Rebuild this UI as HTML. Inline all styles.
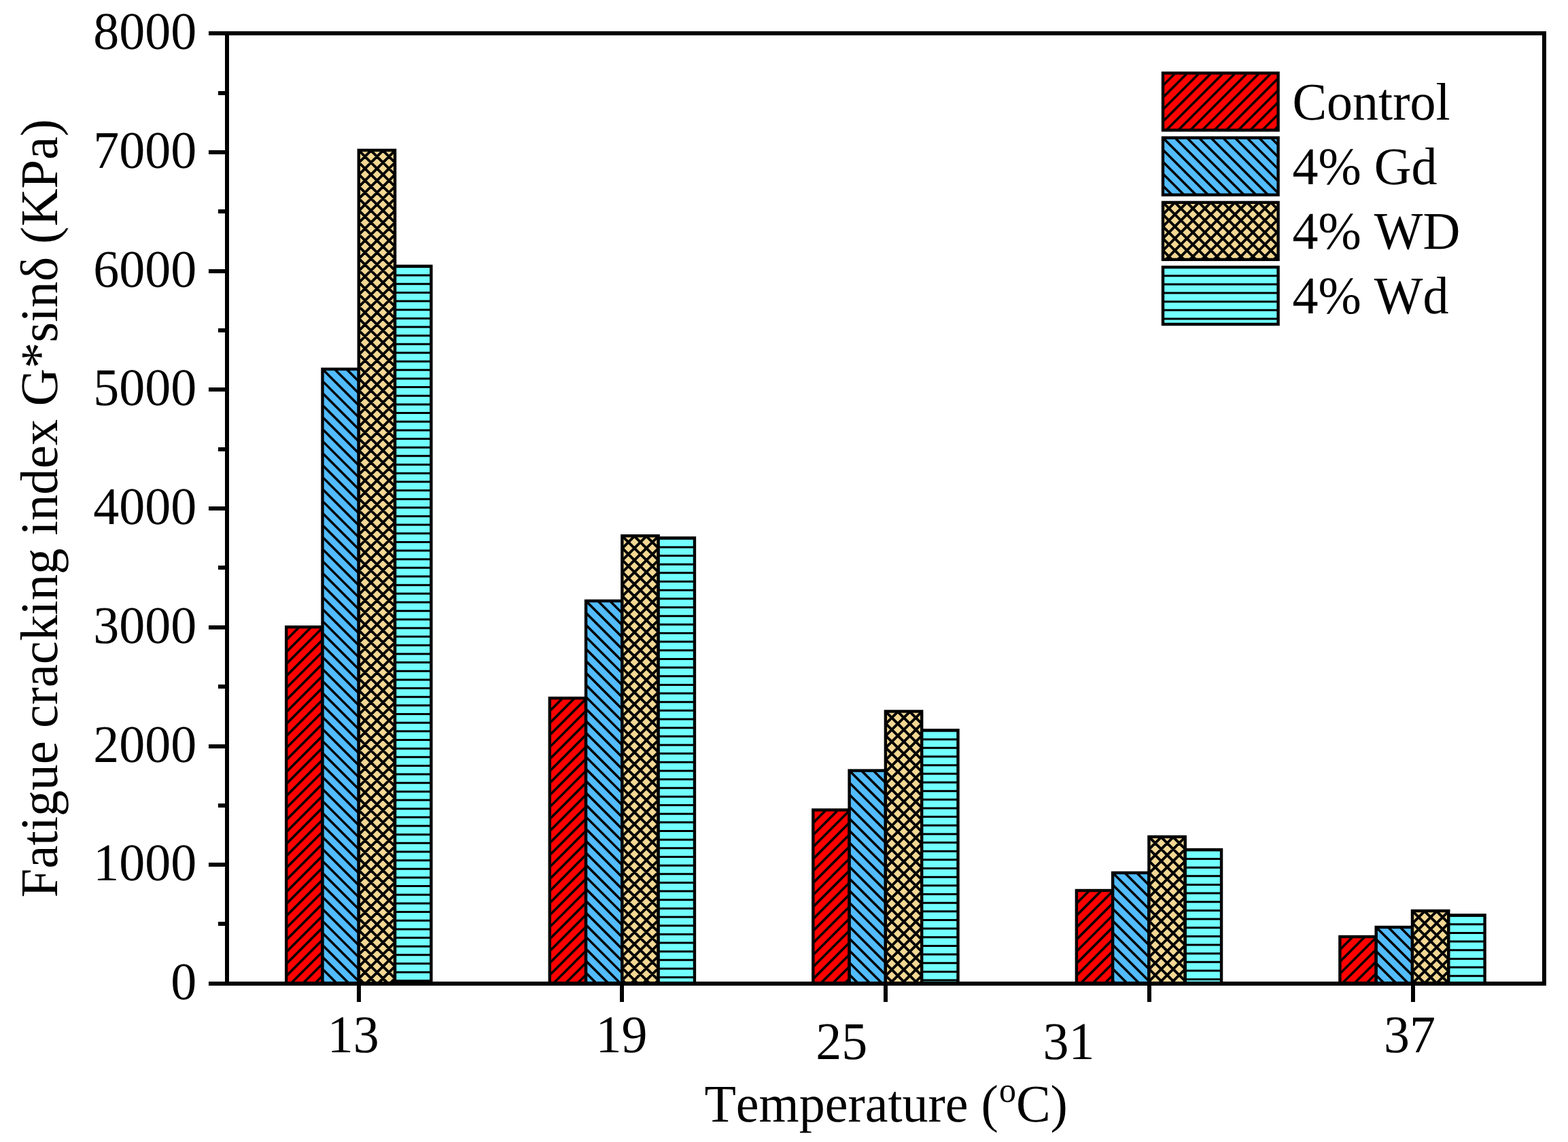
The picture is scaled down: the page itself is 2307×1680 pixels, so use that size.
<!DOCTYPE html>
<html lang="en"><head><meta charset="utf-8"><title>Fatigue cracking index vs temperature</title>
<style>html,body{margin:0;padding:0;background:#fff}body{width:2307px;height:1680px;overflow:hidden}svg{display:block}text{font-family:"Liberation Serif", "DejaVu Serif", serif;font-size:76px;fill:#000;font-kerning:none;font-variant-ligatures:none;text-rendering:geometricPrecision}</style>
</head><body>
<svg width="2307" height="1680" viewBox="0 0 2307 1680">
<rect x="0" y="0" width="2307" height="1680" fill="#fff"/>
<clipPath id="c1"><rect x="421.21" y="922.40" width="53.30" height="524.60"/></clipPath>
<rect x="421.21" y="922.40" width="53.30" height="524.60" fill="#FF0000"/>
<path d="M416.21 893.60L479.50 830.31M416.21 911.25L479.50 847.96M416.21 928.90L479.50 865.61M416.21 946.55L479.50 883.26M416.21 964.20L479.50 900.91M416.21 981.85L479.50 918.56M416.21 999.50L479.50 936.21M416.21 1017.15L479.50 953.86M416.21 1034.80L479.50 971.51M416.21 1052.45L479.50 989.16M416.21 1070.10L479.50 1006.81M416.21 1087.75L479.50 1024.46M416.21 1105.40L479.50 1042.11M416.21 1123.05L479.50 1059.76M416.21 1140.70L479.50 1077.41M416.21 1158.35L479.50 1095.06M416.21 1176.00L479.50 1112.71M416.21 1193.65L479.50 1130.36M416.21 1211.30L479.50 1148.01M416.21 1228.95L479.50 1165.66M416.21 1246.60L479.50 1183.31M416.21 1264.25L479.50 1200.96M416.21 1281.90L479.50 1218.61M416.21 1299.55L479.50 1236.26M416.21 1317.20L479.50 1253.91M416.21 1334.85L479.50 1271.56M416.21 1352.50L479.50 1289.21M416.21 1370.15L479.50 1306.86M416.21 1387.80L479.50 1324.51M416.21 1405.45L479.50 1342.16M416.21 1423.10L479.50 1359.81M416.21 1440.75L479.50 1377.46M416.21 1458.40L479.50 1395.11M416.21 1476.05L479.50 1412.76M416.21 1493.70L479.50 1430.41M416.21 1511.35L479.50 1448.06" stroke="#000" stroke-width="3.50" fill="none" clip-path="url(#c1)"/>
<rect x="421.21" y="922.40" width="53.30" height="524.60" fill="none" stroke="#000" stroke-width="4.40"/>
<clipPath id="c2"><rect x="474.50" y="543.00" width="53.30" height="904.00"/></clipPath>
<rect x="474.50" y="543.00" width="53.30" height="904.00" fill="#52BCFF"/>
<path d="M469.50 449.75L532.80 513.05M469.50 467.40L532.80 530.70M469.50 485.05L532.80 548.35M469.50 502.70L532.80 566.00M469.50 520.35L532.80 583.64M469.50 538.00L532.80 601.30M469.50 555.65L532.80 618.95M469.50 573.30L532.80 636.60M469.50 590.95L532.80 654.25M469.50 608.60L532.80 671.89M469.50 626.25L532.80 689.55M469.50 643.90L532.80 707.20M469.50 661.55L532.80 724.85M469.50 679.20L532.80 742.50M469.50 696.85L532.80 760.15M469.50 714.50L532.80 777.80M469.50 732.15L532.80 795.45M469.50 749.80L532.80 813.10M469.50 767.45L532.80 830.75M469.50 785.10L532.80 848.39M469.50 802.75L532.80 866.04M469.50 820.40L532.80 883.69M469.50 838.05L532.80 901.34M469.50 855.70L532.80 918.99M469.50 873.35L532.80 936.64M469.50 891.00L532.80 954.29M469.50 908.65L532.80 971.94M469.50 926.30L532.80 989.59M469.50 943.95L532.80 1007.24M469.50 961.60L532.80 1024.89M469.50 979.25L532.80 1042.54M469.50 996.90L532.80 1060.19M469.50 1014.55L532.80 1077.84M469.50 1032.20L532.80 1095.49M469.50 1049.85L532.80 1113.14M469.50 1067.50L532.80 1130.79M469.50 1085.15L532.80 1148.44M469.50 1102.80L532.80 1166.09M469.50 1120.45L532.80 1183.74M469.50 1138.10L532.80 1201.39M469.50 1155.75L532.80 1219.04M469.50 1173.40L532.80 1236.69M469.50 1191.05L532.80 1254.34M469.50 1208.70L532.80 1271.99M469.50 1226.35L532.80 1289.64M469.50 1244.00L532.80 1307.29M469.50 1261.65L532.80 1324.94M469.50 1279.30L532.80 1342.59M469.50 1296.95L532.80 1360.24M469.50 1314.60L532.80 1377.89M469.50 1332.25L532.80 1395.54M469.50 1349.90L532.80 1413.19M469.50 1367.55L532.80 1430.84M469.50 1385.20L532.80 1448.49M469.50 1402.85L532.80 1466.14M469.50 1420.50L532.80 1483.79M469.50 1438.15L532.80 1501.44M469.50 1455.80L532.80 1519.09" stroke="#000" stroke-width="3.50" fill="none" clip-path="url(#c2)"/>
<rect x="474.50" y="543.00" width="53.30" height="904.00" fill="none" stroke="#000" stroke-width="4.40"/>
<clipPath id="c3"><rect x="527.80" y="221.00" width="53.29" height="1226.00"/></clipPath>
<rect x="527.80" y="221.00" width="53.29" height="1226.00" fill="#F3D894"/>
<path d="M522.80 127.85L586.09 191.14M522.80 145.50L586.09 208.79M522.80 163.15L586.09 226.44M522.80 180.80L586.09 244.09M522.80 198.45L586.09 261.74M522.80 216.10L586.09 279.39M522.80 233.75L586.09 297.04M522.80 251.40L586.09 314.69M522.80 269.05L586.09 332.34M522.80 286.70L586.09 349.99M522.80 304.35L586.09 367.64M522.80 322.00L586.09 385.29M522.80 339.65L586.09 402.94M522.80 357.30L586.09 420.59M522.80 374.95L586.09 438.24M522.80 392.60L586.09 455.89M522.80 410.25L586.09 473.54M522.80 427.90L586.09 491.19M522.80 445.55L586.09 508.84M522.80 463.20L586.09 526.49M522.80 480.85L586.09 544.14M522.80 498.50L586.09 561.79M522.80 516.15L586.09 579.44M522.80 533.80L586.09 597.09M522.80 551.45L586.09 614.74M522.80 569.10L586.09 632.39M522.80 586.75L586.09 650.04M522.80 604.40L586.09 667.69M522.80 622.05L586.09 685.34M522.80 639.70L586.09 702.99M522.80 657.35L586.09 720.64M522.80 675.00L586.09 738.29M522.80 692.65L586.09 755.94M522.80 710.30L586.09 773.59M522.80 727.95L586.09 791.24M522.80 745.60L586.09 808.89M522.80 763.25L586.09 826.54M522.80 780.90L586.09 844.19M522.80 798.55L586.09 861.84M522.80 816.20L586.09 879.49M522.80 833.85L586.09 897.14M522.80 851.50L586.09 914.79M522.80 869.15L586.09 932.44M522.80 886.80L586.09 950.09M522.80 904.45L586.09 967.74M522.80 922.10L586.09 985.39M522.80 939.75L586.09 1003.04M522.80 957.40L586.09 1020.69M522.80 975.05L586.09 1038.34M522.80 992.70L586.09 1055.99M522.80 1010.35L586.09 1073.64M522.80 1028.00L586.09 1091.29M522.80 1045.65L586.09 1108.94M522.80 1063.30L586.09 1126.59M522.80 1080.95L586.09 1144.24M522.80 1098.60L586.09 1161.89M522.80 1116.25L586.09 1179.54M522.80 1133.90L586.09 1197.19M522.80 1151.55L586.09 1214.84M522.80 1169.20L586.09 1232.49M522.80 1186.85L586.09 1250.14M522.80 1204.50L586.09 1267.79M522.80 1222.15L586.09 1285.44M522.80 1239.80L586.09 1303.09M522.80 1257.45L586.09 1320.74M522.80 1275.10L586.09 1338.39M522.80 1292.75L586.09 1356.04M522.80 1310.40L586.09 1373.69M522.80 1328.05L586.09 1391.34M522.80 1345.70L586.09 1408.99M522.80 1363.35L586.09 1426.64M522.80 1381.00L586.09 1444.29M522.80 1398.65L586.09 1461.94M522.80 1416.30L586.09 1479.59M522.80 1433.95L586.09 1497.24M522.80 1451.60L586.09 1514.89M522.80 191.60L586.09 128.31M522.80 209.25L586.09 145.96M522.80 226.90L586.09 163.61M522.80 244.55L586.09 181.25M522.80 262.20L586.09 198.90M522.80 279.85L586.09 216.55M522.80 297.50L586.09 234.20M522.80 315.15L586.09 251.85M522.80 332.80L586.09 269.50M522.80 350.45L586.09 287.15M522.80 368.10L586.09 304.80M522.80 385.75L586.09 322.45M522.80 403.40L586.09 340.10M522.80 421.05L586.09 357.75M522.80 438.70L586.09 375.40M522.80 456.35L586.09 393.05M522.80 474.00L586.09 410.70M522.80 491.65L586.09 428.35M522.80 509.30L586.09 446.00M522.80 526.95L586.09 463.65M522.80 544.60L586.09 481.30M522.80 562.25L586.09 498.96M522.80 579.90L586.09 516.61M522.80 597.55L586.09 534.26M522.80 615.20L586.09 551.91M522.80 632.85L586.09 569.56M522.80 650.50L586.09 587.21M522.80 668.15L586.09 604.86M522.80 685.80L586.09 622.51M522.80 703.45L586.09 640.16M522.80 721.10L586.09 657.81M522.80 738.75L586.09 675.46M522.80 756.40L586.09 693.11M522.80 774.05L586.09 710.76M522.80 791.70L586.09 728.41M522.80 809.35L586.09 746.06M522.80 827.00L586.09 763.71M522.80 844.65L586.09 781.36M522.80 862.30L586.09 799.01M522.80 879.95L586.09 816.66M522.80 897.60L586.09 834.31M522.80 915.25L586.09 851.96M522.80 932.90L586.09 869.61M522.80 950.55L586.09 887.26M522.80 968.20L586.09 904.91M522.80 985.85L586.09 922.56M522.80 1003.50L586.09 940.21M522.80 1021.15L586.09 957.86M522.80 1038.80L586.09 975.51M522.80 1056.45L586.09 993.16M522.80 1074.10L586.09 1010.81M522.80 1091.75L586.09 1028.46M522.80 1109.40L586.09 1046.11M522.80 1127.05L586.09 1063.76M522.80 1144.70L586.09 1081.41M522.80 1162.35L586.09 1099.06M522.80 1180.00L586.09 1116.71M522.80 1197.65L586.09 1134.36M522.80 1215.30L586.09 1152.01M522.80 1232.95L586.09 1169.66M522.80 1250.60L586.09 1187.31M522.80 1268.25L586.09 1204.96M522.80 1285.90L586.09 1222.61M522.80 1303.55L586.09 1240.26M522.80 1321.20L586.09 1257.91M522.80 1338.85L586.09 1275.56M522.80 1356.50L586.09 1293.21M522.80 1374.15L586.09 1310.86M522.80 1391.80L586.09 1328.51M522.80 1409.45L586.09 1346.16M522.80 1427.10L586.09 1363.81M522.80 1444.75L586.09 1381.46M522.80 1462.40L586.09 1399.11M522.80 1480.05L586.09 1416.76M522.80 1497.70L586.09 1434.41M522.80 1515.35L586.09 1452.06" stroke="#000" stroke-width="3.90" fill="none" clip-path="url(#c3)"/>
<rect x="527.80" y="221.00" width="53.29" height="1226.00" fill="none" stroke="#000" stroke-width="4.40"/>
<clipPath id="c4"><rect x="581.09" y="391.60" width="53.29" height="1055.40"/></clipPath>
<rect x="581.09" y="391.60" width="53.29" height="1055.40" fill="#72FFFF"/>
<path d="M581.09 392.45H634.39M581.09 405.10H634.39M581.09 417.76H634.39M581.09 430.41H634.39M581.09 443.07H634.39M581.09 455.72H634.39M581.09 468.38H634.39M581.09 481.03H634.39M581.09 493.69H634.39M581.09 506.34H634.39M581.09 519.00H634.39M581.09 531.65H634.39M581.09 544.31H634.39M581.09 556.96H634.39M581.09 569.62H634.39M581.09 582.27H634.39M581.09 594.93H634.39M581.09 607.58H634.39M581.09 620.24H634.39M581.09 632.89H634.39M581.09 645.55H634.39M581.09 658.20H634.39M581.09 670.86H634.39M581.09 683.51H634.39M581.09 696.17H634.39M581.09 708.82H634.39M581.09 721.48H634.39M581.09 734.13H634.39M581.09 746.79H634.39M581.09 759.44H634.39M581.09 772.10H634.39M581.09 784.75H634.39M581.09 797.41H634.39M581.09 810.06H634.39M581.09 822.72H634.39M581.09 835.37H634.39M581.09 848.03H634.39M581.09 860.68H634.39M581.09 873.34H634.39M581.09 885.99H634.39M581.09 898.65H634.39M581.09 911.30H634.39M581.09 923.96H634.39M581.09 936.61H634.39M581.09 949.27H634.39M581.09 961.92H634.39M581.09 974.58H634.39M581.09 987.23H634.39M581.09 999.89H634.39M581.09 1012.54H634.39M581.09 1025.20H634.39M581.09 1037.85H634.39M581.09 1050.51H634.39M581.09 1063.16H634.39M581.09 1075.82H634.39M581.09 1088.47H634.39M581.09 1101.13H634.39M581.09 1113.78H634.39M581.09 1126.44H634.39M581.09 1139.09H634.39M581.09 1151.75H634.39M581.09 1164.40H634.39M581.09 1177.06H634.39M581.09 1189.71H634.39M581.09 1202.37H634.39M581.09 1215.02H634.39M581.09 1227.68H634.39M581.09 1240.33H634.39M581.09 1252.99H634.39M581.09 1265.64H634.39M581.09 1278.30H634.39M581.09 1290.95H634.39M581.09 1303.61H634.39M581.09 1316.26H634.39M581.09 1328.92H634.39M581.09 1341.57H634.39M581.09 1354.23H634.39M581.09 1366.88H634.39M581.09 1379.54H634.39M581.09 1392.19H634.39M581.09 1404.85H634.39M581.09 1417.50H634.39M581.09 1430.16H634.39M581.09 1442.81H634.39" stroke="#000" stroke-width="3.00" fill="none" clip-path="url(#c4)"/>
<rect x="581.09" y="391.60" width="53.29" height="1055.40" fill="none" stroke="#000" stroke-width="4.40"/>
<clipPath id="c5"><rect x="808.76" y="1027.00" width="53.29" height="420.00"/></clipPath>
<rect x="808.76" y="1027.00" width="53.29" height="420.00" fill="#FF0000"/>
<path d="M803.76 998.20L867.05 934.90M803.76 1015.85L867.05 952.56M803.76 1033.50L867.05 970.21M803.76 1051.15L867.05 987.86M803.76 1068.80L867.05 1005.51M803.76 1086.45L867.05 1023.16M803.76 1104.10L867.05 1040.81M803.76 1121.75L867.05 1058.46M803.76 1139.40L867.05 1076.11M803.76 1157.05L867.05 1093.76M803.76 1174.70L867.05 1111.41M803.76 1192.35L867.05 1129.06M803.76 1210.00L867.05 1146.71M803.76 1227.65L867.05 1164.36M803.76 1245.30L867.05 1182.01M803.76 1262.95L867.05 1199.66M803.76 1280.60L867.05 1217.31M803.76 1298.25L867.05 1234.96M803.76 1315.90L867.05 1252.61M803.76 1333.55L867.05 1270.26M803.76 1351.20L867.05 1287.91M803.76 1368.85L867.05 1305.56M803.76 1386.50L867.05 1323.21M803.76 1404.15L867.05 1340.86M803.76 1421.80L867.05 1358.51M803.76 1439.45L867.05 1376.16M803.76 1457.10L867.05 1393.81M803.76 1474.75L867.05 1411.46M803.76 1492.40L867.05 1429.11M803.76 1510.05L867.05 1446.76" stroke="#000" stroke-width="3.50" fill="none" clip-path="url(#c5)"/>
<rect x="808.76" y="1027.00" width="53.29" height="420.00" fill="none" stroke="#000" stroke-width="4.40"/>
<clipPath id="c6"><rect x="862.05" y="884.00" width="53.29" height="563.00"/></clipPath>
<rect x="862.05" y="884.00" width="53.29" height="563.00" fill="#52BCFF"/>
<path d="M857.05 790.75L920.35 854.04M857.05 808.40L920.35 871.69M857.05 826.05L920.35 889.34M857.05 843.70L920.35 907.00M857.05 861.35L920.35 924.64M857.05 879.00L920.35 942.29M857.05 896.65L920.35 959.94M857.05 914.30L920.35 977.59M857.05 931.95L920.35 995.24M857.05 949.60L920.35 1012.89M857.05 967.25L920.35 1030.55M857.05 984.90L920.35 1048.19M857.05 1002.55L920.35 1065.85M857.05 1020.20L920.35 1083.49M857.05 1037.85L920.35 1101.14M857.05 1055.50L920.35 1118.80M857.05 1073.15L920.35 1136.44M857.05 1090.80L920.35 1154.10M857.05 1108.45L920.35 1171.74M857.05 1126.10L920.35 1189.39M857.05 1143.75L920.35 1207.05M857.05 1161.40L920.35 1224.69M857.05 1179.05L920.35 1242.34M857.05 1196.70L920.35 1259.99M857.05 1214.35L920.35 1277.64M857.05 1232.00L920.35 1295.29M857.05 1249.65L920.35 1312.94M857.05 1267.30L920.35 1330.59M857.05 1284.95L920.35 1348.24M857.05 1302.60L920.35 1365.89M857.05 1320.25L920.35 1383.54M857.05 1337.90L920.35 1401.19M857.05 1355.55L920.35 1418.84M857.05 1373.20L920.35 1436.49M857.05 1390.85L920.35 1454.14M857.05 1408.50L920.35 1471.79M857.05 1426.15L920.35 1489.44M857.05 1443.80L920.35 1507.09" stroke="#000" stroke-width="3.50" fill="none" clip-path="url(#c6)"/>
<rect x="862.05" y="884.00" width="53.29" height="563.00" fill="none" stroke="#000" stroke-width="4.40"/>
<clipPath id="c7"><rect x="915.35" y="788.30" width="53.29" height="658.70"/></clipPath>
<rect x="915.35" y="788.30" width="53.29" height="658.70" fill="#F3D894"/>
<path d="M910.35 695.15L973.64 758.44M910.35 712.80L973.64 776.09M910.35 730.45L973.64 793.74M910.35 748.10L973.64 811.39M910.35 765.75L973.64 829.04M910.35 783.40L973.64 846.69M910.35 801.05L973.64 864.35M910.35 818.70L973.64 882.00M910.35 836.35L973.64 899.64M910.35 854.00L973.64 917.29M910.35 871.65L973.64 934.94M910.35 889.30L973.64 952.60M910.35 906.95L973.64 970.25M910.35 924.60L973.64 987.89M910.35 942.25L973.64 1005.54M910.35 959.90L973.64 1023.19M910.35 977.55L973.64 1040.85M910.35 995.20L973.64 1058.49M910.35 1012.85L973.64 1076.14M910.35 1030.50L973.64 1093.80M910.35 1048.15L973.64 1111.44M910.35 1065.80L973.64 1129.10M910.35 1083.45L973.64 1146.74M910.35 1101.10L973.64 1164.39M910.35 1118.75L973.64 1182.05M910.35 1136.40L973.64 1199.69M910.35 1154.05L973.64 1217.35M910.35 1171.70L973.64 1234.99M910.35 1189.35L973.64 1252.64M910.35 1207.00L973.64 1270.30M910.35 1224.65L973.64 1287.94M910.35 1242.30L973.64 1305.59M910.35 1259.95L973.64 1323.24M910.35 1277.60L973.64 1340.89M910.35 1295.25L973.64 1358.54M910.35 1312.90L973.64 1376.19M910.35 1330.55L973.64 1393.84M910.35 1348.20L973.64 1411.49M910.35 1365.85L973.64 1429.14M910.35 1383.50L973.64 1446.79M910.35 1401.15L973.64 1464.44M910.35 1418.80L973.64 1482.09M910.35 1436.45L973.64 1499.74M910.35 1454.10L973.64 1517.39M910.35 758.90L973.64 695.60M910.35 776.55L973.64 713.25M910.35 794.20L973.64 730.91M910.35 811.85L973.64 748.56M910.35 829.50L973.64 766.21M910.35 847.15L973.64 783.86M910.35 864.80L973.64 801.51M910.35 882.45L973.64 819.16M910.35 900.10L973.64 836.81M910.35 917.75L973.64 854.46M910.35 935.40L973.64 872.11M910.35 953.05L973.64 889.76M910.35 970.70L973.64 907.41M910.35 988.35L973.64 925.06M910.35 1006.00L973.64 942.71M910.35 1023.65L973.64 960.36M910.35 1041.30L973.64 978.01M910.35 1058.95L973.64 995.66M910.35 1076.60L973.64 1013.31M910.35 1094.25L973.64 1030.96M910.35 1111.90L973.64 1048.61M910.35 1129.55L973.64 1066.26M910.35 1147.20L973.64 1083.91M910.35 1164.85L973.64 1101.56M910.35 1182.50L973.64 1119.21M910.35 1200.15L973.64 1136.86M910.35 1217.80L973.64 1154.51M910.35 1235.45L973.64 1172.16M910.35 1253.10L973.64 1189.81M910.35 1270.75L973.64 1207.46M910.35 1288.40L973.64 1225.11M910.35 1306.05L973.64 1242.76M910.35 1323.70L973.64 1260.41M910.35 1341.35L973.64 1278.06M910.35 1359.00L973.64 1295.71M910.35 1376.65L973.64 1313.36M910.35 1394.30L973.64 1331.01M910.35 1411.95L973.64 1348.66M910.35 1429.60L973.64 1366.31M910.35 1447.25L973.64 1383.96M910.35 1464.90L973.64 1401.61M910.35 1482.55L973.64 1419.26M910.35 1500.20L973.64 1436.91M910.35 1517.85L973.64 1454.56" stroke="#000" stroke-width="3.90" fill="none" clip-path="url(#c7)"/>
<rect x="915.35" y="788.30" width="53.29" height="658.70" fill="none" stroke="#000" stroke-width="4.40"/>
<clipPath id="c8"><rect x="968.64" y="791.40" width="53.29" height="655.60"/></clipPath>
<rect x="968.64" y="791.40" width="53.29" height="655.60" fill="#72FFFF"/>
<path d="M968.64 792.25H1021.94M968.64 804.90H1021.94M968.64 817.56H1021.94M968.64 830.21H1021.94M968.64 842.87H1021.94M968.64 855.52H1021.94M968.64 868.18H1021.94M968.64 880.83H1021.94M968.64 893.49H1021.94M968.64 906.14H1021.94M968.64 918.80H1021.94M968.64 931.45H1021.94M968.64 944.11H1021.94M968.64 956.76H1021.94M968.64 969.42H1021.94M968.64 982.07H1021.94M968.64 994.73H1021.94M968.64 1007.38H1021.94M968.64 1020.04H1021.94M968.64 1032.69H1021.94M968.64 1045.35H1021.94M968.64 1058.00H1021.94M968.64 1070.66H1021.94M968.64 1083.31H1021.94M968.64 1095.97H1021.94M968.64 1108.62H1021.94M968.64 1121.28H1021.94M968.64 1133.93H1021.94M968.64 1146.59H1021.94M968.64 1159.24H1021.94M968.64 1171.90H1021.94M968.64 1184.55H1021.94M968.64 1197.21H1021.94M968.64 1209.86H1021.94M968.64 1222.52H1021.94M968.64 1235.17H1021.94M968.64 1247.83H1021.94M968.64 1260.48H1021.94M968.64 1273.14H1021.94M968.64 1285.79H1021.94M968.64 1298.45H1021.94M968.64 1311.10H1021.94M968.64 1323.76H1021.94M968.64 1336.41H1021.94M968.64 1349.07H1021.94M968.64 1361.72H1021.94M968.64 1374.38H1021.94M968.64 1387.03H1021.94M968.64 1399.69H1021.94M968.64 1412.34H1021.94M968.64 1425.00H1021.94M968.64 1437.65H1021.94" stroke="#000" stroke-width="3.00" fill="none" clip-path="url(#c8)"/>
<rect x="968.64" y="791.40" width="53.29" height="655.60" fill="none" stroke="#000" stroke-width="4.40"/>
<clipPath id="c9"><rect x="1196.31" y="1191.50" width="53.30" height="255.50"/></clipPath>
<rect x="1196.31" y="1191.50" width="53.30" height="255.50" fill="#FF0000"/>
<path d="M1191.31 1162.70L1254.61 1099.40M1191.31 1180.35L1254.61 1117.06M1191.31 1198.00L1254.61 1134.71M1191.31 1215.65L1254.61 1152.36M1191.31 1233.30L1254.61 1170.01M1191.31 1250.95L1254.61 1187.66M1191.31 1268.60L1254.61 1205.31M1191.31 1286.25L1254.61 1222.96M1191.31 1303.90L1254.61 1240.61M1191.31 1321.55L1254.61 1258.26M1191.31 1339.20L1254.61 1275.91M1191.31 1356.85L1254.61 1293.56M1191.31 1374.50L1254.61 1311.21M1191.31 1392.15L1254.61 1328.86M1191.31 1409.80L1254.61 1346.51M1191.31 1427.45L1254.61 1364.16M1191.31 1445.10L1254.61 1381.81M1191.31 1462.75L1254.61 1399.46M1191.31 1480.40L1254.61 1417.11M1191.31 1498.05L1254.61 1434.76M1191.31 1515.70L1254.61 1452.41" stroke="#000" stroke-width="3.50" fill="none" clip-path="url(#c9)"/>
<rect x="1196.31" y="1191.50" width="53.30" height="255.50" fill="none" stroke="#000" stroke-width="4.40"/>
<clipPath id="c10"><rect x="1249.61" y="1133.60" width="53.30" height="313.40"/></clipPath>
<rect x="1249.61" y="1133.60" width="53.30" height="313.40" fill="#52BCFF"/>
<path d="M1244.61 1040.35L1307.90 1103.64M1244.61 1058.00L1307.90 1121.30M1244.61 1075.65L1307.90 1138.94M1244.61 1093.30L1307.90 1156.60M1244.61 1110.95L1307.90 1174.24M1244.61 1128.60L1307.90 1191.89M1244.61 1146.25L1307.90 1209.55M1244.61 1163.90L1307.90 1227.19M1244.61 1181.55L1307.90 1244.85M1244.61 1199.20L1307.90 1262.50M1244.61 1216.85L1307.90 1280.14M1244.61 1234.50L1307.90 1297.80M1244.61 1252.15L1307.90 1315.44M1244.61 1269.80L1307.90 1333.10M1244.61 1287.45L1307.90 1350.75M1244.61 1305.10L1307.90 1368.39M1244.61 1322.75L1307.90 1386.05M1244.61 1340.40L1307.90 1403.69M1244.61 1358.05L1307.90 1421.35M1244.61 1375.70L1307.90 1439.00M1244.61 1393.35L1307.90 1456.64M1244.61 1411.00L1307.90 1474.30M1244.61 1428.65L1307.90 1491.95M1244.61 1446.30L1307.90 1509.60" stroke="#000" stroke-width="3.50" fill="none" clip-path="url(#c10)"/>
<rect x="1249.61" y="1133.60" width="53.30" height="313.40" fill="none" stroke="#000" stroke-width="4.40"/>
<clipPath id="c11"><rect x="1302.90" y="1046.50" width="53.30" height="400.50"/></clipPath>
<rect x="1302.90" y="1046.50" width="53.30" height="400.50" fill="#F3D894"/>
<path d="M1297.90 953.35L1361.20 1016.64M1297.90 971.00L1361.20 1034.30M1297.90 988.65L1361.20 1051.94M1297.90 1006.30L1361.20 1069.59M1297.90 1023.95L1361.20 1087.24M1297.90 1041.60L1361.20 1104.89M1297.90 1059.25L1361.20 1122.54M1297.90 1076.90L1361.20 1140.19M1297.90 1094.55L1361.20 1157.84M1297.90 1112.20L1361.20 1175.49M1297.90 1129.85L1361.20 1193.14M1297.90 1147.50L1361.20 1210.79M1297.90 1165.15L1361.20 1228.44M1297.90 1182.80L1361.20 1246.09M1297.90 1200.45L1361.20 1263.74M1297.90 1218.10L1361.20 1281.39M1297.90 1235.75L1361.20 1299.04M1297.90 1253.40L1361.20 1316.69M1297.90 1271.05L1361.20 1334.35M1297.90 1288.70L1361.20 1351.99M1297.90 1306.35L1361.20 1369.64M1297.90 1324.00L1361.20 1387.29M1297.90 1341.65L1361.20 1404.94M1297.90 1359.30L1361.20 1422.59M1297.90 1376.95L1361.20 1440.24M1297.90 1394.60L1361.20 1457.89M1297.90 1412.25L1361.20 1475.54M1297.90 1429.90L1361.20 1493.19M1297.90 1447.55L1361.20 1510.85M1297.90 1017.10L1361.20 953.80M1297.90 1034.75L1361.20 971.45M1297.90 1052.40L1361.20 989.11M1297.90 1070.05L1361.20 1006.76M1297.90 1087.70L1361.20 1024.41M1297.90 1105.35L1361.20 1042.06M1297.90 1123.00L1361.20 1059.71M1297.90 1140.65L1361.20 1077.36M1297.90 1158.30L1361.20 1095.01M1297.90 1175.95L1361.20 1112.66M1297.90 1193.60L1361.20 1130.31M1297.90 1211.25L1361.20 1147.96M1297.90 1228.90L1361.20 1165.61M1297.90 1246.55L1361.20 1183.26M1297.90 1264.20L1361.20 1200.91M1297.90 1281.85L1361.20 1218.56M1297.90 1299.50L1361.20 1236.21M1297.90 1317.15L1361.20 1253.86M1297.90 1334.80L1361.20 1271.51M1297.90 1352.45L1361.20 1289.16M1297.90 1370.10L1361.20 1306.81M1297.90 1387.75L1361.20 1324.46M1297.90 1405.40L1361.20 1342.11M1297.90 1423.05L1361.20 1359.76M1297.90 1440.70L1361.20 1377.41M1297.90 1458.35L1361.20 1395.06M1297.90 1476.00L1361.20 1412.71M1297.90 1493.65L1361.20 1430.36M1297.90 1511.30L1361.20 1448.01" stroke="#000" stroke-width="3.90" fill="none" clip-path="url(#c11)"/>
<rect x="1302.90" y="1046.50" width="53.30" height="400.50" fill="none" stroke="#000" stroke-width="4.40"/>
<clipPath id="c12"><rect x="1356.20" y="1074.20" width="53.30" height="372.80"/></clipPath>
<rect x="1356.20" y="1074.20" width="53.30" height="372.80" fill="#72FFFF"/>
<path d="M1356.20 1075.05H1409.49M1356.20 1087.70H1409.49M1356.20 1100.36H1409.49M1356.20 1113.01H1409.49M1356.20 1125.67H1409.49M1356.20 1138.32H1409.49M1356.20 1150.98H1409.49M1356.20 1163.63H1409.49M1356.20 1176.29H1409.49M1356.20 1188.94H1409.49M1356.20 1201.60H1409.49M1356.20 1214.25H1409.49M1356.20 1226.91H1409.49M1356.20 1239.56H1409.49M1356.20 1252.22H1409.49M1356.20 1264.87H1409.49M1356.20 1277.53H1409.49M1356.20 1290.18H1409.49M1356.20 1302.84H1409.49M1356.20 1315.49H1409.49M1356.20 1328.15H1409.49M1356.20 1340.80H1409.49M1356.20 1353.46H1409.49M1356.20 1366.11H1409.49M1356.20 1378.77H1409.49M1356.20 1391.42H1409.49M1356.20 1404.08H1409.49M1356.20 1416.73H1409.49M1356.20 1429.39H1409.49M1356.20 1442.04H1409.49" stroke="#000" stroke-width="3.00" fill="none" clip-path="url(#c12)"/>
<rect x="1356.20" y="1074.20" width="53.30" height="372.80" fill="none" stroke="#000" stroke-width="4.40"/>
<clipPath id="c13"><rect x="1583.86" y="1310.00" width="53.30" height="137.00"/></clipPath>
<rect x="1583.86" y="1310.00" width="53.30" height="137.00" fill="#FF0000"/>
<path d="M1578.86 1281.20L1642.16 1217.90M1578.86 1298.85L1642.16 1235.55M1578.86 1316.50L1642.16 1253.20M1578.86 1334.15L1642.16 1270.86M1578.86 1351.80L1642.16 1288.51M1578.86 1369.45L1642.16 1306.16M1578.86 1387.10L1642.16 1323.81M1578.86 1404.75L1642.16 1341.46M1578.86 1422.40L1642.16 1359.11M1578.86 1440.05L1642.16 1376.76M1578.86 1457.70L1642.16 1394.41M1578.86 1475.35L1642.16 1412.06M1578.86 1493.00L1642.16 1429.71M1578.86 1510.65L1642.16 1447.36" stroke="#000" stroke-width="3.50" fill="none" clip-path="url(#c13)"/>
<rect x="1583.86" y="1310.00" width="53.30" height="137.00" fill="none" stroke="#000" stroke-width="4.40"/>
<clipPath id="c14"><rect x="1637.16" y="1284.00" width="53.30" height="163.00"/></clipPath>
<rect x="1637.16" y="1284.00" width="53.30" height="163.00" fill="#52BCFF"/>
<path d="M1632.16 1190.75L1695.45 1254.05M1632.16 1208.40L1695.45 1271.70M1632.16 1226.05L1695.45 1289.35M1632.16 1243.70L1695.45 1306.99M1632.16 1261.35L1695.45 1324.64M1632.16 1279.00L1695.45 1342.30M1632.16 1296.65L1695.45 1359.94M1632.16 1314.30L1695.45 1377.59M1632.16 1331.95L1695.45 1395.24M1632.16 1349.60L1695.45 1412.89M1632.16 1367.25L1695.45 1430.54M1632.16 1384.90L1695.45 1448.19M1632.16 1402.55L1695.45 1465.84M1632.16 1420.20L1695.45 1483.49M1632.16 1437.85L1695.45 1501.14M1632.16 1455.50L1695.45 1518.79" stroke="#000" stroke-width="3.50" fill="none" clip-path="url(#c14)"/>
<rect x="1637.16" y="1284.00" width="53.30" height="163.00" fill="none" stroke="#000" stroke-width="4.40"/>
<clipPath id="c15"><rect x="1690.45" y="1231.00" width="53.30" height="216.00"/></clipPath>
<rect x="1690.45" y="1231.00" width="53.30" height="216.00" fill="#F3D894"/>
<path d="M1685.45 1137.85L1748.75 1201.14M1685.45 1155.50L1748.75 1218.80M1685.45 1173.15L1748.75 1236.44M1685.45 1190.80L1748.75 1254.09M1685.45 1208.45L1748.75 1271.74M1685.45 1226.10L1748.75 1289.39M1685.45 1243.75L1748.75 1307.04M1685.45 1261.40L1748.75 1324.69M1685.45 1279.05L1748.75 1342.34M1685.45 1296.70L1748.75 1359.99M1685.45 1314.35L1748.75 1377.64M1685.45 1332.00L1748.75 1395.29M1685.45 1349.65L1748.75 1412.94M1685.45 1367.30L1748.75 1430.59M1685.45 1384.95L1748.75 1448.24M1685.45 1402.60L1748.75 1465.89M1685.45 1420.25L1748.75 1483.54M1685.45 1437.90L1748.75 1501.19M1685.45 1455.55L1748.75 1518.84M1685.45 1201.60L1748.75 1138.31M1685.45 1219.25L1748.75 1155.96M1685.45 1236.90L1748.75 1173.61M1685.45 1254.55L1748.75 1191.26M1685.45 1272.20L1748.75 1208.91M1685.45 1289.85L1748.75 1226.56M1685.45 1307.50L1748.75 1244.21M1685.45 1325.15L1748.75 1261.86M1685.45 1342.80L1748.75 1279.51M1685.45 1360.45L1748.75 1297.16M1685.45 1378.10L1748.75 1314.81M1685.45 1395.75L1748.75 1332.46M1685.45 1413.40L1748.75 1350.11M1685.45 1431.05L1748.75 1367.76M1685.45 1448.70L1748.75 1385.41M1685.45 1466.35L1748.75 1403.06M1685.45 1484.00L1748.75 1420.71M1685.45 1501.65L1748.75 1438.36M1685.45 1519.30L1748.75 1456.01" stroke="#000" stroke-width="3.90" fill="none" clip-path="url(#c15)"/>
<rect x="1690.45" y="1231.00" width="53.30" height="216.00" fill="none" stroke="#000" stroke-width="4.40"/>
<clipPath id="c16"><rect x="1743.75" y="1250.00" width="53.30" height="197.00"/></clipPath>
<rect x="1743.75" y="1250.00" width="53.30" height="197.00" fill="#72FFFF"/>
<path d="M1743.75 1250.85H1797.04M1743.75 1263.50H1797.04M1743.75 1276.16H1797.04M1743.75 1288.81H1797.04M1743.75 1301.47H1797.04M1743.75 1314.12H1797.04M1743.75 1326.78H1797.04M1743.75 1339.43H1797.04M1743.75 1352.09H1797.04M1743.75 1364.74H1797.04M1743.75 1377.40H1797.04M1743.75 1390.05H1797.04M1743.75 1402.71H1797.04M1743.75 1415.36H1797.04M1743.75 1428.02H1797.04M1743.75 1440.67H1797.04" stroke="#000" stroke-width="3.00" fill="none" clip-path="url(#c16)"/>
<rect x="1743.75" y="1250.00" width="53.30" height="197.00" fill="none" stroke="#000" stroke-width="4.40"/>
<clipPath id="c17"><rect x="1971.41" y="1378.00" width="53.30" height="69.00"/></clipPath>
<rect x="1971.41" y="1378.00" width="53.30" height="69.00" fill="#FF0000"/>
<path d="M1966.41 1349.20L2029.71 1285.90M1966.41 1366.85L2029.71 1303.55M1966.41 1384.50L2029.71 1321.20M1966.41 1402.15L2029.71 1338.85M1966.41 1419.80L2029.71 1356.50M1966.41 1437.45L2029.71 1374.15M1966.41 1455.10L2029.71 1391.81M1966.41 1472.75L2029.71 1409.46M1966.41 1490.40L2029.71 1427.11M1966.41 1508.05L2029.71 1444.76" stroke="#000" stroke-width="3.50" fill="none" clip-path="url(#c17)"/>
<rect x="1971.41" y="1378.00" width="53.30" height="69.00" fill="none" stroke="#000" stroke-width="4.40"/>
<clipPath id="c18"><rect x="2024.71" y="1364.00" width="53.29" height="83.00"/></clipPath>
<rect x="2024.71" y="1364.00" width="53.29" height="83.00" fill="#52BCFF"/>
<path d="M2019.71 1270.75L2083.00 1334.04M2019.71 1288.40L2083.00 1351.69M2019.71 1306.05L2083.00 1369.34M2019.71 1323.70L2083.00 1386.99M2019.71 1341.35L2083.00 1404.64M2019.71 1359.00L2083.00 1422.29M2019.71 1376.65L2083.00 1439.94M2019.71 1394.30L2083.00 1457.59M2019.71 1411.95L2083.00 1475.24M2019.71 1429.60L2083.00 1492.89M2019.71 1447.25L2083.00 1510.54" stroke="#000" stroke-width="3.50" fill="none" clip-path="url(#c18)"/>
<rect x="2024.71" y="1364.00" width="53.29" height="83.00" fill="none" stroke="#000" stroke-width="4.40"/>
<clipPath id="c19"><rect x="2078.00" y="1340.00" width="53.30" height="107.00"/></clipPath>
<rect x="2078.00" y="1340.00" width="53.30" height="107.00" fill="#F3D894"/>
<path d="M2073.00 1246.85L2136.30 1310.14M2073.00 1264.50L2136.30 1327.80M2073.00 1282.15L2136.30 1345.44M2073.00 1299.80L2136.30 1363.09M2073.00 1317.45L2136.30 1380.74M2073.00 1335.10L2136.30 1398.39M2073.00 1352.75L2136.30 1416.04M2073.00 1370.40L2136.30 1433.69M2073.00 1388.05L2136.30 1451.34M2073.00 1405.70L2136.30 1468.99M2073.00 1423.35L2136.30 1486.64M2073.00 1441.00L2136.30 1504.29M2073.00 1458.65L2136.30 1521.94M2073.00 1310.60L2136.30 1247.30M2073.00 1328.25L2136.30 1264.95M2073.00 1345.90L2136.30 1282.61M2073.00 1363.55L2136.30 1300.26M2073.00 1381.20L2136.30 1317.91M2073.00 1398.85L2136.30 1335.56M2073.00 1416.50L2136.30 1353.21M2073.00 1434.15L2136.30 1370.86M2073.00 1451.80L2136.30 1388.51M2073.00 1469.45L2136.30 1406.16M2073.00 1487.10L2136.30 1423.81M2073.00 1504.75L2136.30 1441.46M2073.00 1522.40L2136.30 1459.11" stroke="#000" stroke-width="3.90" fill="none" clip-path="url(#c19)"/>
<rect x="2078.00" y="1340.00" width="53.30" height="107.00" fill="none" stroke="#000" stroke-width="4.40"/>
<clipPath id="c20"><rect x="2131.30" y="1346.30" width="53.30" height="100.70"/></clipPath>
<rect x="2131.30" y="1346.30" width="53.30" height="100.70" fill="#72FFFF"/>
<path d="M2131.30 1347.15H2184.59M2131.30 1359.80H2184.59M2131.30 1372.46H2184.59M2131.30 1385.11H2184.59M2131.30 1397.77H2184.59M2131.30 1410.42H2184.59M2131.30 1423.08H2184.59M2131.30 1435.73H2184.59M2131.30 1448.39H2184.59" stroke="#000" stroke-width="3.00" fill="none" clip-path="url(#c20)"/>
<rect x="2131.30" y="1346.30" width="53.30" height="100.70" fill="none" stroke="#000" stroke-width="4.40"/>
<g shape-rendering="crispEdges" stroke="#000" stroke-width="6" fill="none">
<rect x="334.0" y="49.0" width="1938.0" height="1398.0"/>
<line x1="307.0" y1="1447.00" x2="334.0" y2="1447.00"/>
<line x1="321.0" y1="1359.00" x2="334.0" y2="1359.00"/>
<line x1="307.0" y1="1272.25" x2="334.0" y2="1272.25"/>
<line x1="321.0" y1="1184.88" x2="334.0" y2="1184.88"/>
<line x1="307.0" y1="1097.50" x2="334.0" y2="1097.50"/>
<line x1="321.0" y1="1010.12" x2="334.0" y2="1010.12"/>
<line x1="307.0" y1="922.75" x2="334.0" y2="922.75"/>
<line x1="321.0" y1="835.38" x2="334.0" y2="835.38"/>
<line x1="307.0" y1="748.00" x2="334.0" y2="748.00"/>
<line x1="321.0" y1="660.62" x2="334.0" y2="660.62"/>
<line x1="307.0" y1="573.25" x2="334.0" y2="573.25"/>
<line x1="321.0" y1="485.88" x2="334.0" y2="485.88"/>
<line x1="307.0" y1="398.50" x2="334.0" y2="398.50"/>
<line x1="321.0" y1="311.12" x2="334.0" y2="311.12"/>
<line x1="307.0" y1="223.75" x2="334.0" y2="223.75"/>
<line x1="321.0" y1="137.00" x2="334.0" y2="137.00"/>
<line x1="307.0" y1="49.00" x2="334.0" y2="49.00"/>
<line x1="528.00" y1="1447.0" x2="528.00" y2="1474.0"/>
<line x1="915.00" y1="1447.0" x2="915.00" y2="1474.0"/>
<line x1="1303.00" y1="1447.0" x2="1303.00" y2="1474.0"/>
<line x1="1691.00" y1="1447.0" x2="1691.00" y2="1474.0"/>
<line x1="2079.00" y1="1447.0" x2="2079.00" y2="1474.0"/>
</g>
<text transform="translate(289.30 1470.00) scale(1.0000 1.0250)" text-anchor="end">0</text>
<text transform="translate(289.30 1295.25) scale(1.0000 1.0250)" text-anchor="end">1000</text>
<text transform="translate(289.30 1120.50) scale(1.0000 1.0250)" text-anchor="end">2000</text>
<text transform="translate(289.30 945.75) scale(1.0000 1.0250)" text-anchor="end">3000</text>
<text transform="translate(289.30 771.00) scale(1.0000 1.0250)" text-anchor="end">4000</text>
<text transform="translate(289.30 596.25) scale(1.0000 1.0250)" text-anchor="end">5000</text>
<text transform="translate(289.30 421.50) scale(1.0000 1.0250)" text-anchor="end">6000</text>
<text transform="translate(289.30 246.75) scale(1.0000 1.0250)" text-anchor="end">7000</text>
<text transform="translate(289.30 72.00) scale(1.0000 1.0250)" text-anchor="end">8000</text>
<text transform="translate(481.70 1548.40) scale(1.0000 1.0250)">13</text>
<text transform="translate(876.50 1548.40) scale(1.0000 1.0250)">19</text>
<text transform="translate(1200.20 1558.20) scale(1.0000 1.0250)">25</text>
<text transform="translate(1534.40 1558.20) scale(1.0000 1.0250)">31</text>
<text transform="translate(2036.00 1548.40) scale(1.0000 1.0250)">37</text>
<text transform="translate(1036.40 1650.00) scale(1.0000 1.0250)">Temperature (<tspan dx="1" dy="-28.5" font-size="50">o</tspan><tspan dy="28.5">C)</tspan></text>
<text transform="translate(84.00 1320.50) rotate(-90) scale(1.0105 1.0250)">Fatigue cracking index G*sinδ (KPa)</text>
<clipPath id="c21"><rect x="1711.00" y="107.50" width="169.60" height="84.00"/></clipPath>
<rect x="1711.00" y="107.50" width="169.60" height="84.00" fill="#FF0000"/>
<path d="M1706.00 77.90L1885.60 -101.70M1706.00 95.55L1885.60 -84.05M1706.00 113.20L1885.60 -66.40M1706.00 130.85L1885.60 -48.75M1706.00 148.50L1885.60 -31.10M1706.00 166.15L1885.60 -13.45M1706.00 183.80L1885.60 4.20M1706.00 201.45L1885.60 21.85M1706.00 219.10L1885.60 39.50M1706.00 236.75L1885.60 57.15M1706.00 254.40L1885.60 74.80M1706.00 272.05L1885.60 92.45M1706.00 289.70L1885.60 110.10M1706.00 307.35L1885.60 127.75M1706.00 325.00L1885.60 145.40M1706.00 342.65L1885.60 163.05M1706.00 360.30L1885.60 180.70M1706.00 377.95L1885.60 198.35" stroke="#000" stroke-width="3.50" fill="none" clip-path="url(#c21)"/>
<rect x="1711.00" y="107.50" width="169.60" height="84.00" fill="none" stroke="#000" stroke-width="4.40"/>
<text transform="translate(1901.40 175.80) scale(1.0000 1.0250)">Control</text>
<clipPath id="c22"><rect x="1711.00" y="202.67" width="169.60" height="84.00"/></clipPath>
<rect x="1711.00" y="202.67" width="169.60" height="84.00" fill="#52BCFF"/>
<path d="M1706.00 3.52L1885.60 183.12M1706.00 21.17L1885.60 200.77M1706.00 38.82L1885.60 218.42M1706.00 56.47L1885.60 236.07M1706.00 74.12L1885.60 253.72M1706.00 91.77L1885.60 271.37M1706.00 109.42L1885.60 289.02M1706.00 127.07L1885.60 306.67M1706.00 144.72L1885.60 324.32M1706.00 162.37L1885.60 341.97M1706.00 180.02L1885.60 359.62M1706.00 197.67L1885.60 377.27M1706.00 215.32L1885.60 394.92M1706.00 232.97L1885.60 412.57M1706.00 250.62L1885.60 430.22M1706.00 268.27L1885.60 447.87M1706.00 285.92L1885.60 465.52" stroke="#000" stroke-width="3.50" fill="none" clip-path="url(#c22)"/>
<rect x="1711.00" y="202.67" width="169.60" height="84.00" fill="none" stroke="#000" stroke-width="4.40"/>
<text transform="translate(1901.40 270.97) scale(1.0000 1.0250)">4% Gd</text>
<clipPath id="c23"><rect x="1711.00" y="297.84" width="169.60" height="84.00"/></clipPath>
<rect x="1711.00" y="297.84" width="169.60" height="84.00" fill="#F3D894"/>
<path d="M1706.00 98.69L1885.60 278.29M1706.00 116.34L1885.60 295.94M1706.00 133.99L1885.60 313.59M1706.00 151.64L1885.60 331.24M1706.00 169.29L1885.60 348.89M1706.00 186.94L1885.60 366.54M1706.00 204.59L1885.60 384.19M1706.00 222.24L1885.60 401.84M1706.00 239.89L1885.60 419.49M1706.00 257.54L1885.60 437.14M1706.00 275.19L1885.60 454.79M1706.00 292.84L1885.60 472.44M1706.00 310.49L1885.60 490.09M1706.00 328.14L1885.60 507.74M1706.00 345.79L1885.60 525.39M1706.00 363.44L1885.60 543.04M1706.00 381.09L1885.60 560.69M1706.00 285.19L1885.60 105.59M1706.00 302.84L1885.60 123.24M1706.00 320.49L1885.60 140.89M1706.00 338.14L1885.60 158.54M1706.00 355.79L1885.60 176.19M1706.00 373.44L1885.60 193.84M1706.00 391.09L1885.60 211.49M1706.00 408.74L1885.60 229.14M1706.00 426.39L1885.60 246.79M1706.00 444.04L1885.60 264.44M1706.00 461.69L1885.60 282.09M1706.00 479.34L1885.60 299.74M1706.00 496.99L1885.60 317.39M1706.00 514.64L1885.60 335.04M1706.00 532.29L1885.60 352.69M1706.00 549.94L1885.60 370.34M1706.00 567.59L1885.60 387.99" stroke="#000" stroke-width="3.90" fill="none" clip-path="url(#c23)"/>
<rect x="1711.00" y="297.84" width="169.60" height="84.00" fill="none" stroke="#000" stroke-width="4.40"/>
<text transform="translate(1901.40 366.14) scale(1.0000 1.0250)">4% WD</text>
<clipPath id="c24"><rect x="1711.00" y="393.01" width="169.60" height="84.00"/></clipPath>
<rect x="1711.00" y="393.01" width="169.60" height="84.00" fill="#72FFFF"/>
<path d="M1711.00 393.01H1880.60M1711.00 405.66H1880.60M1711.00 418.32H1880.60M1711.00 430.97H1880.60M1711.00 443.63H1880.60M1711.00 456.28H1880.60M1711.00 468.94H1880.60" stroke="#000" stroke-width="3.00" fill="none" clip-path="url(#c24)"/>
<rect x="1711.00" y="393.01" width="169.60" height="84.00" fill="none" stroke="#000" stroke-width="4.40"/>
<text transform="translate(1901.40 461.31) scale(1.0000 1.0250)">4% Wd</text>
</svg></body></html>
